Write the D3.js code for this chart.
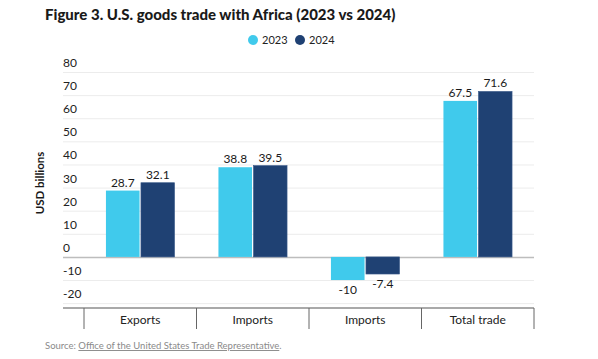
<!DOCTYPE html>
<html><head><meta charset="utf-8">
<script src="https://cdn.jsdelivr.net/npm/d3@7/dist/d3.min.js"></script>
<style>
body{margin:0;background:#fff;}
svg{display:block;font-family:"Lato","Open Sans",sans-serif;}
</style></head>
<body>
<svg id="c" width="598" height="359"></svg>
<script>
const categories = ["Exports", "Imports", "Imports", "Total trade"];
const seriesNames = ["2023", "2024"];
const values2023 = [28.7, 38.8, -10, 67.5];
const values2024 = [32.1, 39.5, -7.4, 71.6];
const labels2023 = ["28.7", "38.8", "-10", "67.5"];
const labels2024 = ["32.1", "39.5", "-7.4", "71.6"];
const yTicks = [-20, -10, 0, 10, 20, 30, 40, 50, 60, 70, 80];
const colors = ["#40CAEC", "#1F4173"];

(function () {
const svg = d3.select("#c");
const mLeft = 63, mRight = 534, mTop = 72, mBottom = 308, bandLeft = 84;

const y = d3.scaleLinear().domain([-22.1, 80]).range([mBottom, mTop]);
const x = d3.scaleBand().domain(categories.map((d, i) => i)).range([bandLeft, mRight]).paddingInner(0).paddingOuter(0);
const xs = d3.scaleBand().domain(seriesNames).range([0, x.bandwidth()]).paddingInner(0.04).paddingOuter(0.627);

// title
svg.append("text").attr("x", 45).attr("y", 20).attr("font-size", 15).attr("font-weight", 900)
  .attr("fill", "#1a1a1a").attr("font-family", "Lato, sans-serif")
  .text("Figure 3. U.S. goods trade with Africa (2023 vs 2024)");

// legend
const legX = [253, 300];
seriesNames.forEach((s, i) => {
  svg.append("circle").attr("cx", legX[i]).attr("cy", 40).attr("r", 5).attr("fill", colors[i]);
  svg.append("text").attr("x", legX[i] + 9).attr("y", 44).attr("font-size", 11).attr("fill", "#222").text(s);
});

// grid
const grid = svg.append("g").attr("transform", `translate(${mLeft},0)`)
  .call(d3.axisLeft(y).tickValues(yTicks).tickSize(-(mRight - mLeft)).tickFormat(""));
grid.select(".domain").remove();
grid.selectAll(".tick line").attr("stroke", d => d === 0 ? "#bdbdbd" : "#ececec").attr("stroke-width", d => d === 0 ? 1.5 : 1);

// y labels
svg.append("g").selectAll("text").data(yTicks).join("text")
  .attr("x", mLeft).attr("y", d => y(d) - 5).attr("font-size", 12).attr("fill", "#222")
  .text(d => d);

// y title
svg.append("text").attr("transform", `translate(44,183) rotate(-90)`).attr("text-anchor", "middle")
  .attr("font-size", 11.5).attr("font-weight", 700).attr("fill", "#1a1a1a").text("USD billions");

// bars
const series = [values2023, values2024];
const labs = [labels2023, labels2024];
series.forEach((vals, si) => {
  const g = svg.append("g");
  g.selectAll("rect").data(vals).join("rect")
    .attr("x", (d, i) => x(i) + xs(seriesNames[si]))
    .attr("width", xs.bandwidth())
    .attr("y", d => y(Math.max(0, d)))
    .attr("height", d => Math.abs(y(d) - y(0)))
    .attr("fill", colors[si])
    .attr("stroke", si === 1 ? "#3a5a8a" : "none").attr("stroke-width", 0.6);
  g.selectAll("text").data(vals).join("text")
    .attr("x", (d, i) => x(i) + xs(seriesNames[si]) + xs.bandwidth() / 2)
    .attr("y", d => d >= 0 ? y(d) - 4 : y(d) + 14)
    .attr("text-anchor", "middle").attr("font-size", 12).attr("fill", "#1a1a1a")
    .text((d, i) => labs[si][i]);
});

// x axis
const xa = svg.append("g").attr("transform", `translate(0,${mBottom})`)
  .call(d3.axisBottom(x).tickSize(0).tickFormat(i => categories[i]));
xa.select(".domain").remove();
xa.selectAll("text").attr("font-size", 12).attr("fill", "#222").attr("dy", "1.05em").attr("font-family", "Lato, sans-serif");
svg.append("line").attr("x1", mLeft).attr("x2", mRight).attr("y1", mBottom).attr("y2", mBottom).attr("stroke", "#555").attr("stroke-width", 1.2);
const seps = categories.map((d, i) => x(i)).concat([mRight]);
svg.append("g").selectAll("line").data(seps).join("line")
  .attr("x1", d => d).attr("x2", d => d).attr("y1", mBottom).attr("y2", mBottom + 21)
  .attr("stroke", "#666").attr("stroke-width", 1);

// source
const src = svg.append("text").attr("x", 45).attr("y", 349).attr("font-size", 9.5).attr("fill", "#8a8a8a");
src.append("tspan").text("Source: ");
src.append("tspan").attr("text-decoration", "underline").text("Office of the United States Trade Representative");
src.append("tspan").text(".");
})();
</script>
</body></html>
